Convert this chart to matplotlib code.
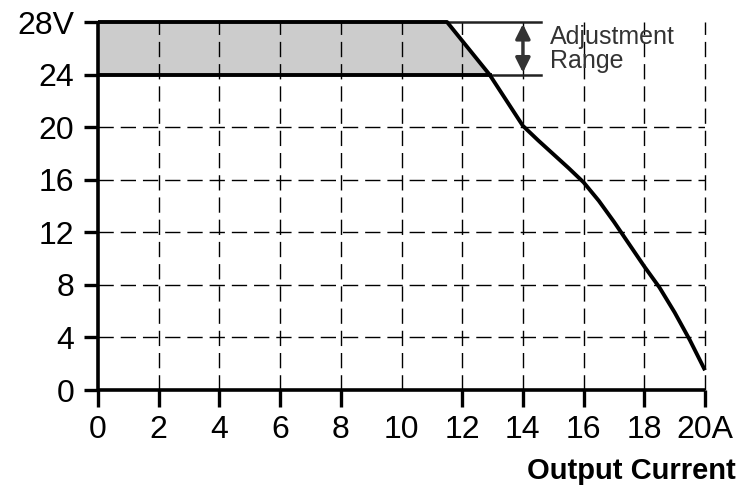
import matplotlib.pyplot as plt

plt.rcParams['font.family'] = ['Liberation Sans', 'DejaVu Sans']

# derating curve: output current (A) vs output voltage (V)
current = [0, 11.5, 12.9, 14.0, 14.5, 15.0, 15.5, 16.0, 16.5, 17.0, 17.5, 18.0, 18.5, 19.0, 19.5, 20.0]
voltage = [28, 28, 24, 20.1, 19.0, 17.95, 16.9, 15.8, 14.4, 12.8, 11.1, 9.4, 7.8, 5.9, 3.8, 1.5]

# adjustment band (24..28 V), low-voltage boundary
band_current = [0, 11.5, 12.9]
band_upper = [28, 28, 24]
band_lower = 24
band_end = 14.6
arrow_x = 14.0

x_ticks = [0, 2, 4, 6, 8, 10, 12, 14, 16, 18, 20]
x_labels = ['0', '2', '4', '6', '8', '10', '12', '14', '16', '18', '20A']
y_ticks = [0, 4, 8, 12, 16, 20, 24, 28]
y_labels = ['0', '4', '8', '12', '16', '20', '24', '28V']

fig = plt.figure(figsize=(7.44, 4.88), dpi=100)
ax = fig.add_axes([98 / 744, 1 - 390 / 488, 607 / 744, 368 / 488])

ax.set_xlim(0, 20)
ax.set_ylim(0, 28)

# shaded band
ax.fill_between(band_current, band_lower, band_upper, color='#cccccc', lw=0, zorder=1)

# dashed grid
dash = (0, (11, 5))
for x in x_ticks[1:]:
    ax.plot([x, x], [0, 28], color='black', lw=1.0, ls=dash, zorder=2, clip_on=False)
for y in y_ticks[1:-2]:
    ax.plot([0, 20], [y, y], color='black', lw=1.0, ls=dash, zorder=2)

# thin extensions of 24/28 lines
ax.plot([band_current[1], band_end], [28, 28], color='#222222', lw=1.8, zorder=3, clip_on=False)
ax.plot([band_current[2], band_end], [24, 24], color='#222222', lw=1.8, zorder=3)
ax.plot([0, band_current[2]], [24, 24], color='black', lw=2.8, zorder=4)

# main curve
ax.plot(current, voltage, color='black', lw=2.8, solid_capstyle='butt',
        solid_joinstyle='round', zorder=5, clip_on=False)

# adjustment arrow
ax.annotate('', xy=(arrow_x, 24.15), xytext=(arrow_x, 27.85),
            arrowprops=dict(arrowstyle='<|-|>', color='#333333', lw=2.4,
                            mutation_scale=22, shrinkA=0, shrinkB=0), zorder=6)
ax.text(14.9, 25.95, 'Adjustment\nRange', fontsize=18, color='#333333',
        ha='left', va='center', linespacing=1.0)

for side in ['top', 'right']:
    ax.spines[side].set_visible(False)
for side in ['left', 'bottom']:
    ax.spines[side].set_linewidth(2.6)
    ax.spines[side].set_capstyle('butt')

ax.set_xticks(x_ticks)
ax.set_xticklabels(x_labels, fontsize=23)
ax.set_yticks(y_ticks)
ax.set_yticklabels(y_labels, fontsize=23)
ax.tick_params(axis='x', direction='out', length=12, width=2.4, pad=6)
ax.tick_params(axis='y', direction='out', length=10, width=2.4, pad=7)
ax.xaxis.get_major_ticks()[5].tick1line.set_visible(False)

fig.text(736 / 744, 1 - 479 / 488, 'Output Current', fontsize=21, fontweight='bold',
         ha='right', va='baseline')

fig.savefig('out.png', dpi=100)
